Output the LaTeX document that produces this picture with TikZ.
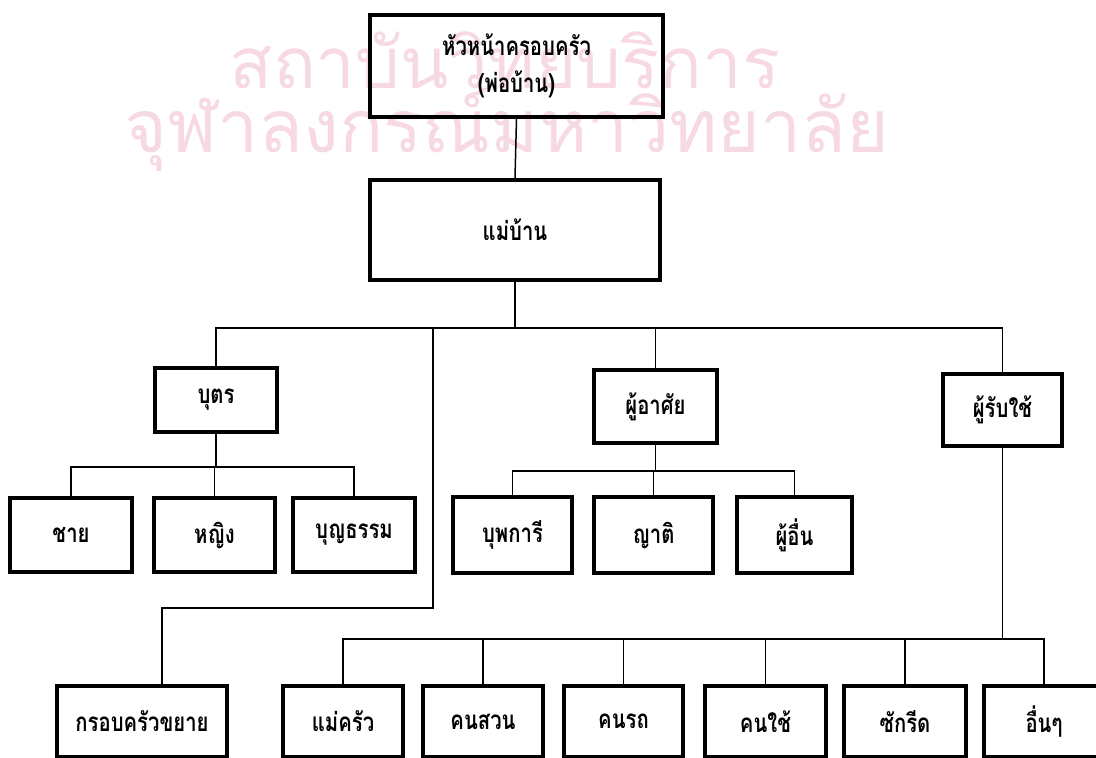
\documentclass[tikz,border=0pt]{standalone}
\usepackage{fontspec}
\setmainfont{Liberation Sans}
\newfontfamily\thaifont[Script=Thai,FakeStretch=0.78]{Loma}
\newfontfamily\wmfont[Script=Thai]{Loma}
\definecolor{wmpink}{RGB}{247,218,225}
\tikzset{
  box/.style={draw, line width=3.6pt, inner sep=0pt, align=center,
    font=\thaifont\bfseries\fontsize{26}{37}\selectfont},
  link/.style={line width=1.5pt},
  wm/.style={text=wmpink, inner sep=0pt, font=\wmfont}
}
\begin{document}
\begin{tikzpicture}[x=1pt, y=-1pt]
\useasboundingbox (0,0) rectangle (1096,758);
% watermark
\node[wm, anchor=center] (wm1) at (505,60) {\resizebox{550pt}{!}{สถาบันวิทยบริการ}};
\node[wm, anchor=center] (wm2) at (507,130) {\resizebox{765pt}{!}{จุฬาลงกรณ์มหาวิทยาลัย}};
% boxes
\node[box, minimum width=293pt, minimum height=102pt] (head) at (516.5,66) {หัวหน้าครอบครัว\\(พ่อบ้าน)};
\node[box, minimum width=290pt, minimum height=100pt] (mom) at (515,230) {แม่บ้าน};
\node[box, minimum width=122pt, minimum height=64pt] (son) at (216,400) {บุตร};
\node[box, minimum width=123pt, minimum height=73pt] (res) at (655.5,406.5) {ผู้อาศัย};
\node[box, minimum width=119pt, minimum height=72pt] (serv) at (1002.5,410) {ผู้รับใช้};
\node[box, minimum width=122pt, minimum height=74pt] (male) at (71,535) {ชาย};
\node[box, minimum width=121pt, minimum height=74pt] (female) at (214.5,535) {หญิง};
\node[box, minimum width=122pt, minimum height=74pt] (adopt) at (354,535) {บุญธรรม};
\node[box, minimum width=119pt, minimum height=76pt] (anc) at (512.5,535) {บุพการี};
\node[box, minimum width=119pt, minimum height=76pt] (rel) at (653.5,535) {ญาติ};
\node[box, minimum width=115pt, minimum height=76pt] (other) at (794.5,535) {ผู้อื่น};
\node[box, minimum width=170pt, minimum height=71pt] (ext) at (142,721.5) {กรอบครัวขยาย};
\node[box, minimum width=120pt, minimum height=71pt] (cook) at (343,721.5) {แม่ครัว};
\node[box, minimum width=120pt, minimum height=71pt] (gard) at (483,721.5) {คนสวน};
\node[box, minimum width=119pt, minimum height=71pt] (drv) at (623.5,721.5) {คนรถ};
\node[box, minimum width=121pt, minimum height=71pt] (maid) at (765.5,721.5) {คนใช้};
\node[box, minimum width=122pt, minimum height=71pt] (laund) at (905,721.5) {ซักรีด};
\node[box, minimum width=120pt, minimum height=71pt] (etc) at (1044,721.5) {อื่นๆ};
% junctions
\coordinate (bar1) at (0,328);
\coordinate (bar2) at (0,467);
\coordinate (bar3) at (0,471);
\coordinate (bar4) at (0,639);
\coordinate (long) at (433,328);
\coordinate (longb) at (433,608);
\coordinate (extin) at (162,608);
% connectors
\draw[link] (head.south) -- (mom.north);
\draw[link] (mom.south) -- (mom.south |- bar1);
\draw[link, line width=1.8pt] (son.north) -- (son.north |- bar1) -- (serv.north |- bar1) -- (serv.north);
\draw[link] (res.north |- bar1) -- (res.north);
\draw[link] (long) -- (longb) -- (extin) -- (extin |- ext.north);
\draw[link] (son.south) -- (son.south |- bar2);
\draw[link] (male.north) -- (male.north |- bar2) -- (adopt.north |- bar2) -- (adopt.north);
\draw[link] (female.north |- bar2) -- (female.north);
\draw[link] (res.south) -- (res.south |- bar3);
\draw[link] (anc.north) -- (anc.north |- bar3) -- (other.north |- bar3) -- (other.north);
\draw[link, line width=1pt] (rel.north |- bar3) -- (rel.north);
\draw[link] (serv.south) -- (serv.south |- bar4);
\draw[link] (cook.north) -- (cook.north |- bar4) -- (etc.north |- bar4) -- (etc.north);
\draw[link] (gard.north |- bar4) -- (gard.north);
\draw[link] (drv.north |- bar4) -- (drv.north);
\draw[link] (maid.north |- bar4) -- (maid.north);
\draw[link] (laund.north |- bar4) -- (laund.north);
\end{tikzpicture}
\end{document}
